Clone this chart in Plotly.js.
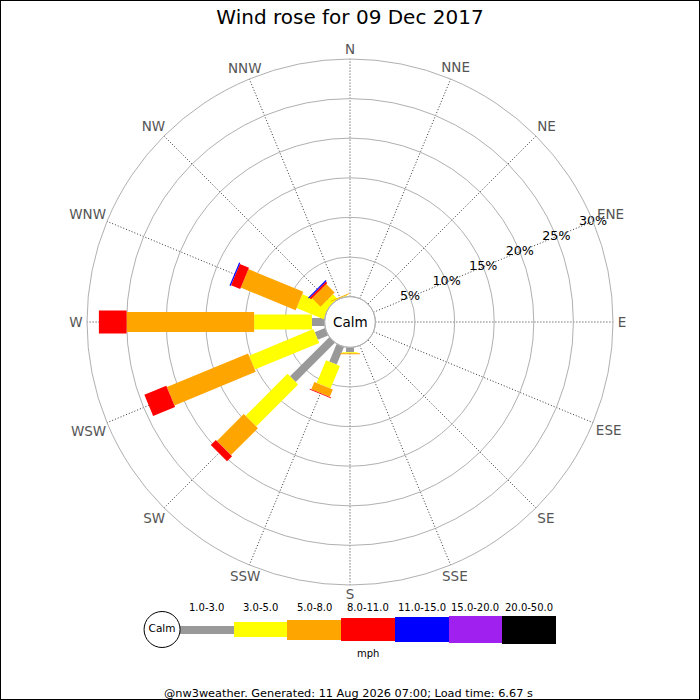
<!DOCTYPE html>
<html>
<head>
<meta charset="utf-8">
<script src="https://cdn.plot.ly/plotly-3.0.1.min.js"></script>
<style>html,body{margin:0;padding:0;background:#fff}#chart{width:700px;height:700px}</style>
</head>
<body>
<div id="chart"></div>
<script>
// ---- data ----
const directions = ['N','NNE','NE','ENE','E','ESE','SE','SSE','S','SSW','SW','WSW','W','WNW','NW','NNW'];
const binLabels = ['1.0-3.0','3.0-5.0','5.0-8.0','8.0-11.0','11.0-15.0','15.0-20.0','20.0-50.0'];
// percentage of time per direction, per speed bin (mph)
const bin1to3   = [0,0,0,0,0,0,0,0,0.6,2.4,7.0,1.4,1.6,0,0,0];
const bin3to5   = [0,0,0,0,0,0,0,0,0.15,3.1,7.5,8.8,7.3,3.7,0.8,0.1];
const bin5to8   = [0,0,0,0,0,0,0,0,0.1,1.0,4.8,11.1,16.1,7.5,1.5,0.1];
const bin8to11  = [0,0,0,0,0,0,0,0,0,0.1,0.9,3.0,3.5,1.25,0.25,0];
const bin11to15 = [0,0,0,0,0,0,0,0,0,0,0,0,0,0.15,0.15,0];
const bin15to20 = [0,0,0,0,0,0,0,0,0,0,0,0,0,0,0,0];
const bin20to50 = [0,0,0,0,0,0,0,0,0,0,0,0,0,0,0,0];
const radialTicks = [5,10,15,20,25,30];
const radialTickText = ['5%','10%','15%','20%','25%','30%'];
const titleText = 'Wind rose for 09 Dec 2017';
const unitText = 'mph';
const calmText = 'Calm';
const footerText = '@nw3weather. Generated: 11 Aug 2026 07:00; Load time: 6.67 s';

// ---- styles ----
const binColors = ['#999999','#ffff00','#ffa500','#ff0000','#0000ff','#a020f0','#000000'];
const binWidths = [8,15,20,23,25,27,28];
const FONT = 'DejaVu Sans, Verdana, sans-serif';
const CX = 350, CY = 322, HOLE = 25.4, RAD = 263;
const RAD2 = 290, CY2 = 324; // overlay polar for compass labels
// distance (px) of each compass label centre from the rose centre
const labelRadiusPx = [273,276,278,282,272,280,277,274,272,274,277,283,274,284,278,275];

const bins = [bin1to3,bin3to5,bin5to8,bin8to11,bin11to15,bin15to20,bin20to50];
const dirAngles = directions.map((d,i)=>i*360/directions.length);

const traces = [];
const cum = directions.map(()=>0);
bins.forEach((vals,b)=>{
  const r=[], th=[];
  vals.forEach((v,i)=>{
    if(v>0){
      r.push(cum[i], cum[i]+v, null);
      th.push(dirAngles[i], dirAngles[i], null);
      cum[i]+=v;
    }
  });
  traces.push({
    type:'scatterpolar', mode:'lines', r:r, theta:th,
    line:{color:binColors[b], width:binWidths[b]},
    connectgaps:false, hoverinfo:'skip', showlegend:false
  });
});

// radial tick labels along ENE spoke
traces.push({
  type:'scatterpolar', mode:'text',
  r: radialTicks, theta: radialTicks.map(()=>dirAngles[3]),
  text: radialTickText, textposition:'middle center',
  textfont:{family:FONT, size:12.7, color:'#000'},
  cliponaxis:false, hoverinfo:'skip', showlegend:false
});

// compass labels (overlay polar subplot)
traces.push({
  type:'scatterpolar', subplot:'polar2', mode:'text',
  r: labelRadiusPx.map(p=>p/RAD2), theta: dirAngles,
  text: directions, textposition:'middle center',
  textfont:{family:FONT, size:13.5, color:'#555'},
  cliponaxis:false, hoverinfo:'skip', showlegend:false
});

// legend bar on cartesian axes
const legX = binLabels.map((l,i)=>i+1);
traces.push({
  type:'bar', x: legX, y: binWidths, base: binWidths.map(w=>-w/2),
  width: binLabels.map(()=>1),
  marker:{color: binColors, line:{width:0}},
  xaxis:'x', yaxis:'y', hoverinfo:'skip', showlegend:false
});
traces.push({
  type:'scatter', mode:'markers+text', x:[0.166], y:[0],
  marker:{size:36, color:'#fff', line:{color:'#000', width:1}},
  text:[calmText], textposition:'middle center',
  textfont:{family:FONT, size:10.5, color:'#000'},
  cliponaxis:false, xaxis:'x', yaxis:'y', hoverinfo:'skip', showlegend:false
});

const annotations = binLabels.map((l,i)=>({
  x: legX[i], y: 22.5, xref:'x', yref:'y', text:l, showarrow:false,
  font:{family:FONT, size:10, color:'#000'}, xanchor:'center', yanchor:'middle'
}));
annotations.push({x:4, y:-23.5, xref:'x', yref:'y', text:unitText, showarrow:false,
  font:{family:FONT, size:10, color:'#000'}, xanchor:'center', yanchor:'middle'});
annotations.push({x:CX/700, y:1-CY/700, xref:'paper', yref:'paper', text:calmText, showarrow:false,
  font:{family:FONT, size:13.5, color:'#000'}, xanchor:'center', yanchor:'middle'});
annotations.push({x:348/700, y:1-693/700, xref:'paper', yref:'paper', text:footerText, showarrow:false,
  font:{family:FONT, size:11.3, color:'#000'}, xanchor:'center', yanchor:'middle'});

const layout = {
  width:700, height:700,
  margin:{l:0,r:0,t:0,b:0},
  paper_bgcolor:'#fff', plot_bgcolor:'#fff',
  showlegend:false,
  title:{text:titleText, x:0.5, xanchor:'center', y:1-17/700, yanchor:'middle', yref:'container',
    font:{family:FONT, size:20, color:'#000'}},
  polar:{
    domain:{x:[(CX-RAD)/700, (CX+RAD)/700], y:[1-(CY+RAD)/700, 1-(CY-RAD)/700]},
    hole: HOLE/RAD,
    bgcolor:'#fff',
    radialaxis:{range:[0,30], tickvals:radialTicks, showticklabels:false, ticks:'',
      showline:false, gridcolor:'#b0b0b0', gridwidth:1},
    angularaxis:{direction:'clockwise', rotation:90, tickmode:'array', tickvals:dirAngles, ticktext:directions,
      showticklabels:false,
      showgrid:true, gridcolor:'#333', griddash:'1px,2px', gridwidth:1, ticks:'',
      showline:true, linecolor:'#b0b0b0', linewidth:1}
  },
  polar2:{
    domain:{x:[(CX-RAD2)/700, (CX+RAD2)/700], y:[1-(CY2+RAD2)/700, 1-(CY2-RAD2)/700]},
    bgcolor:'rgba(0,0,0,0)',
    radialaxis:{range:[0,1], visible:false, showgrid:false, showline:false, showticklabels:false, ticks:''},
    angularaxis:{direction:'clockwise', rotation:90, visible:false, showgrid:false, showline:false,
      showticklabels:false, ticks:''}
  },
  xaxis:{domain:[126.3/700, 556/700], range:[-0.5,7.5], visible:false, fixedrange:true},
  yaxis:{domain:[1-659.5/700, 1-599.5/700], range:[-30,30], visible:false, fixedrange:true},
  bargap:0,
  annotations: annotations,
  shapes:[
    {type:'rect', xref:'paper', yref:'paper', x0:0, x1:1, y0:0, y1:1, line:{color:'#000', width:2}},
    {type:'circle', xref:'paper', yref:'paper', x0:(CX-HOLE)/700, x1:(CX+HOLE)/700,
      y0:1-(CY+HOLE)/700, y1:1-(CY-HOLE)/700, line:{color:'#b0b0b0', width:1}, layer:'above'}
  ]
};

Plotly.newPlot('chart', traces, layout, {staticPlot:true, displayModeBar:false});
</script>
</body>
</html>
